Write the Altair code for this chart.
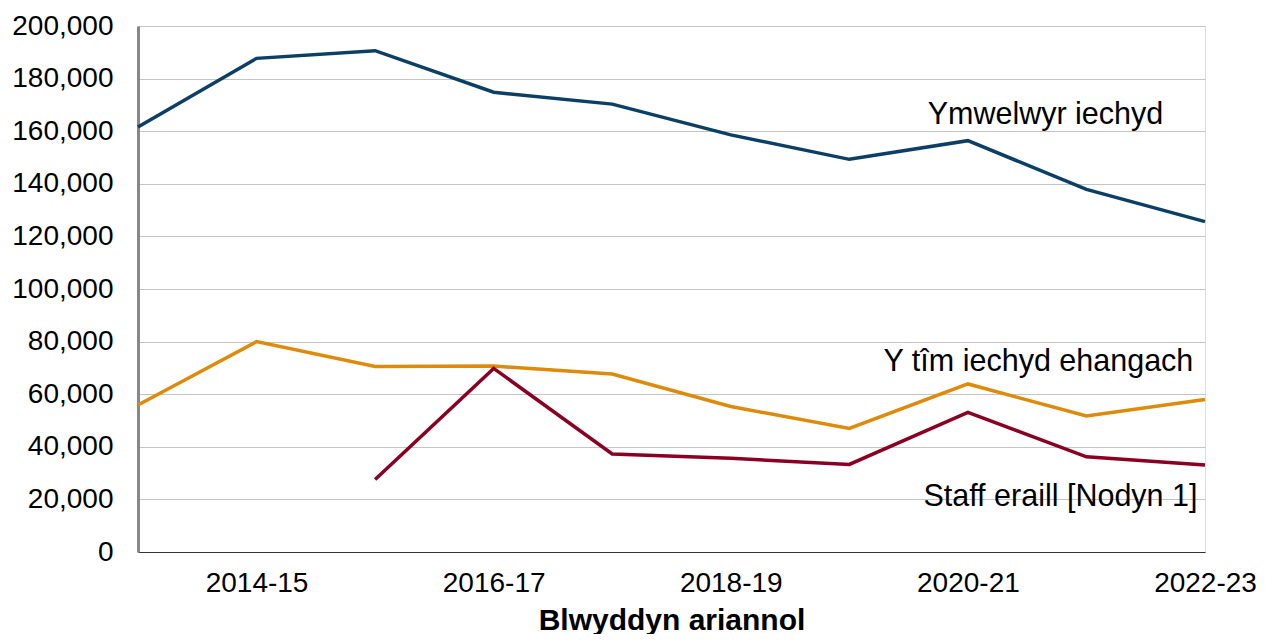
import altair as alt
import pandas as pd

years = ["2013-14", "2014-15", "2015-16", "2016-17", "2017-18",
         "2018-19", "2019-20", "2020-21", "2021-22", "2022-23"]
shown_years = ["2014-15", "2016-17", "2018-19", "2020-21", "2022-23"]

health_visitors = [161600, 187700, 190600, 174800, 170300,
                   158600, 149300, 156400, 137900, 125600]
wider_team = [55900, 80000, 70500, 70700, 67700,
              55300, 47000, 63900, 51700, 58000]
other_staff = [None, None, 27600, 69800, 37300,
               35600, 33300, 53100, 36200, 33100]

series_names = ["Ymwelwyr iechyd", "Y tîm iechyd ehangach", "Staff eraill [Nodyn 1]"]
series_colors = ["#0b3f66", "#de8a0b", "#8a0022"]

label_years = ["2021-22", "2021-22", "2021-22"]
label_values = [166000, 72200, 20900]
y_ticks = list(range(0, 200001, 20000))

rows = []
for name, vals in zip(series_names, [health_visitors, wider_team, other_staff]):
    for yr, v in zip(years, vals):
        if v is not None:
            rows.append({"year": yr, "value": v, "series": name})
df = pd.DataFrame(rows)

labels_df = pd.DataFrame({"series": series_names, "year": label_years, "value": label_values})

FONT = "Liberation Sans"

x_enc = alt.X("year:N", sort=years,
              scale=alt.Scale(type="point", padding=0, domain=years),
              axis=alt.Axis(values=shown_years, title="Blwyddyn ariannol",
                            labelFontSize=28, labelColor="black", labelFont=FONT,
                            labelAngle=0, labelPadding=17, ticks=False,
                            domainColor="#333333", domainWidth=1, grid=False,
                            titleFont=FONT, titleFontSize=30, titleFontWeight="bold",
                            titleColor="black", titlePadding=8))
y_enc = alt.Y("value:Q",
              scale=alt.Scale(domain=[0, 200000], nice=False),
              axis=alt.Axis(values=y_ticks, format=",d", title=None,
                            labelFontSize=28, labelColor="black", labelFont=FONT,
                            labelPadding=25, ticks=False,
                            domainColor="#888888", domainWidth=3,
                            gridColor="#c4c4c4", gridWidth=1))

color_enc = alt.Color("series:N", scale=alt.Scale(domain=series_names, range=series_colors),
                      legend=None)

lines = alt.Chart(df).mark_line(strokeWidth=3.5).encode(
    x=x_enc, y=y_enc, color=color_enc, detail="series:N"
)

base_text = alt.Chart(labels_df)
texts = []
for name, dx in zip(series_names, [-41, -48, -26]):
    texts.append(
        base_text.transform_filter(alt.datum.series == name)
        .mark_text(font=FONT, fontSize=30.5, color="black", align="center",
                   baseline="middle", dx=dx)
        .encode(x=alt.X("year:N", sort=years), y=alt.Y("value:Q"), text="series:N")
    )

chart = alt.layer(lines, *texts).properties(
    width=1067, height=526,
    autosize=alt.AutoSizeParams(type="none"),
    padding={"left": 130, "top": 18, "right": 53, "bottom": 82},
).configure_view(strokeWidth=0, stroke="transparent").configure(background="white")

chart.save("out.html", embed_options={"renderer": "svg", "actions": False})
